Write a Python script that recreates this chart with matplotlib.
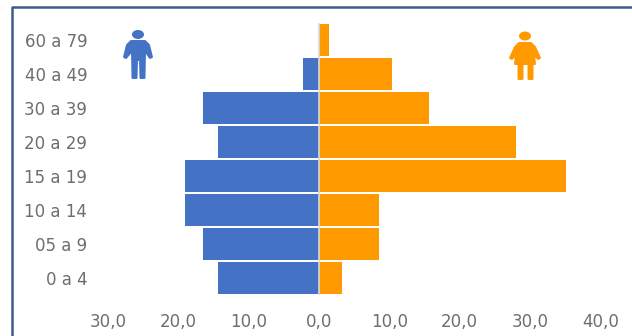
import matplotlib
matplotlib.use("Agg")
import matplotlib.pyplot as plt
from matplotlib.patches import Polygon, Ellipse

categories = ["0 a 4", "05 a 9", "10 a 14", "15 a 19", "20 a 29", "30 a 39", "40 a 49", "60 a 79"]
men = [14.4, 16.5, 19.1, 19.1, 14.4, 16.5, 2.3, 0.0]
women = [3.3, 8.5, 8.5, 35.1, 28.0, 15.6, 10.4, 1.4]
ticks = [-30, -20, -10, 0, 10, 20, 30, 40]
tick_labels = ["30,0", "20,0", "10,0", "0,0", "10,0", "20,0", "30,0", "40,0"]

W, H = 632, 336
BLUE, ORANGE, GREY = "#4472C4", "#FF9900", "#6E6E6E"
fig = plt.figure(figsize=(W / 100, H / 100), dpi=100, facecolor="white")
px = dict(transform=fig.transFigure)
def X(x): return x / W
def Y(y): return 1 - y / H

# frame
fig.add_artist(plt.Line2D([X(12), X(12), X(632)], [Y(336), Y(7), Y(7)], color="#3F5B8C", lw=1.8, **px))

# axes: x 0 at 319 px, 70.3 px per 10 units; y spans 23..295 px
left, right, top, bottom = 90, 630, 23, 295
ax = fig.add_axes([X(left), Y(bottom), X(right - left), Y(top) - Y(bottom)])
ax.set_xlim((left - 319) / 7.03, (right - 319) / 7.03)
ax.set_ylim(-0.5, len(categories) - 0.5)
pos = list(range(len(categories)))
ax.barh(pos, [-m for m in men], height=0.94, color=BLUE)
ax.barh(pos, women, height=0.94, color=ORANGE)
for s in ax.spines.values():
    s.set_visible(False)
ax.axvline(0, color="#D9D9D9", lw=1.2, zorder=3)
ax.set_yticks(pos, categories)
ax.set_xticks(ticks, tick_labels)
ax.tick_params(length=0, labelcolor=GREY, labelsize=12)
ax.tick_params(axis="x", pad=13)
ax.tick_params(axis="y", pad=2)
for lab in ax.get_yticklabels():
    lab.set_verticalalignment("center_baseline")

def add(p): fig.add_artist(p)
def poly(points, c):
    add(Polygon([(X(a), Y(b)) for a, b in points], closed=True, fc=c, ec=c, lw=1.4, joinstyle="round", **px))
def head(cx, cy, c):
    add(Ellipse((X(cx), Y(cy)), 12 / W, 9 / H, fc=c, ec="none", **px))

# male icon
head(138, 34.5, BLUE)
poly([(131, 41), (145, 41), (149, 45), (152, 57), (150, 58), (145, 51), (144.5, 78), (140.5, 78), (140, 60),
      (137, 60), (136.5, 78), (132.5, 78), (132, 51), (126, 58), (124, 57), (127, 45)], BLUE)
# female icon
head(525, 36, ORANGE)
poly([(519, 43), (531, 43), (535, 47), (540, 58), (538, 59), (534, 54), (535, 64), (532.5, 64), (532.5, 79), (528.5, 79),
      (528.5, 64), (522.5, 64), (522.5, 79), (518.5, 79), (518.5, 64), (515, 64), (516, 54), (512, 59), (510, 58), (515, 47)], ORANGE)

fig.savefig("out.png", dpi=100)
